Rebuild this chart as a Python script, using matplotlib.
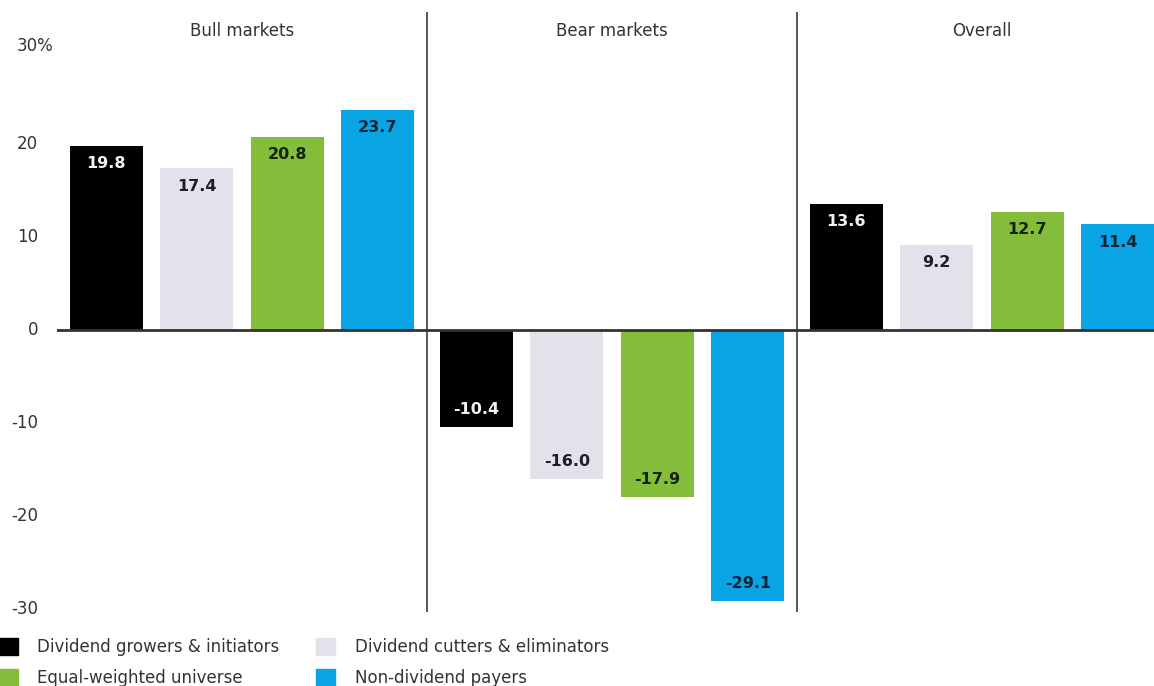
import numpy as np
import matplotlib
matplotlib.use("Agg")
import matplotlib.pyplot as plt
from matplotlib.patches import Patch

# average annual returns by market regime
regimes = ['Bull markets', 'Bear markets', 'Overall']
series = ['Dividend growers & initiators', 'Dividend cutters & eliminators',
          'Equal-weighted universe', 'Non-dividend payers']
growers = [19.8, -10.4, 13.6]
cutters = [17.4, -16.0, 9.2]
equal_weighted = [20.8, -17.9, 12.7]
non_payers = [23.7, -29.1, 11.4]
yticks = [30, 20, 10, 0, -10, -20, -30]

colors = ['#000000', '#e2e2eb', '#84bd39', '#09a4e4']
label_colors = ['#f2f2f2', '#1e1e28', '#16220a', '#0c2536']

plt.rcParams['font.family'] = ['DejaVu Sans']

W, H = 1154, 686
fig = plt.figure(figsize=(W / 100, H / 100), dpi=100)
ax = fig.add_axes([57 / W, (H - 612) / H, (W - 57) / W, 600 / H])

x = np.arange(len(regimes))
step = 0.2446
width = 0.197
all_vals = [growers, cutters, equal_weighted, non_payers]

for i, vals in enumerate(all_vals):
    xs = x + (i - 1.5) * step
    bars = ax.bar(xs, vals, width=width, color=colors[i], zorder=2)
    for b, v in zip(bars, vals):
        off = -18 if v > 0 else 17
        ax.annotate(f'{v:.1f}', xy=(b.get_x() + b.get_width() / 2, v),
                    xytext=(0, off), textcoords='offset pixels',
                    ha='center', va='center', fontsize=11.5,
                    fontweight='bold', color=label_colors[i], zorder=3)

ax.set_xlim(-0.5, 2.465)
ax.set_ylim(-30.3, 34.2)

# regime separators and zero line
for g in x[:-1]:
    ax.axvline(g + 0.5, color='#4a4a4a', lw=1.3, zorder=1)
ax.axhline(0, color='#333333', lw=2, zorder=4)

for g, name in zip(x, regimes):
    ax.text(g, 32.15, name, ha='center', va='center', fontsize=12, color='#333333')

# tick labels; the top one carries the % sign and hangs to the right
trans = matplotlib.transforms.blended_transform_factory(fig.transFigure, ax.transData)
for t in yticks:
    if t == yticks[0]:
        ax.text(17 / W, t + 0.5, f'{t}%', ha='left', va='center', fontsize=12,
                color='#333333', transform=trans)
    else:
        ax.text(38 / W, t, f'{t}', ha='right', va='center', fontsize=12,
                color='#333333', transform=trans)

for s in ax.spines.values():
    s.set_visible(False)
ax.set_xticks([])
ax.set_yticks([])

handles = [Patch(color=c, label=n) for c, n in zip(colors, series)]
order = [0, 2, 1, 3]
fig.legend([handles[k] for k in order], [series[k] for k in order],
           ncol=2, loc='upper left', bbox_to_anchor=(-1 / W, (H - 638) / H),
           frameon=False, fontsize=12, borderpad=0, borderaxespad=0,
           handlelength=1.15, handleheight=1.15, handletextpad=1.15,
           columnspacing=2.2, labelspacing=0.78, labelcolor='#333333')

fig.savefig('out.png', dpi=100, facecolor='white')
